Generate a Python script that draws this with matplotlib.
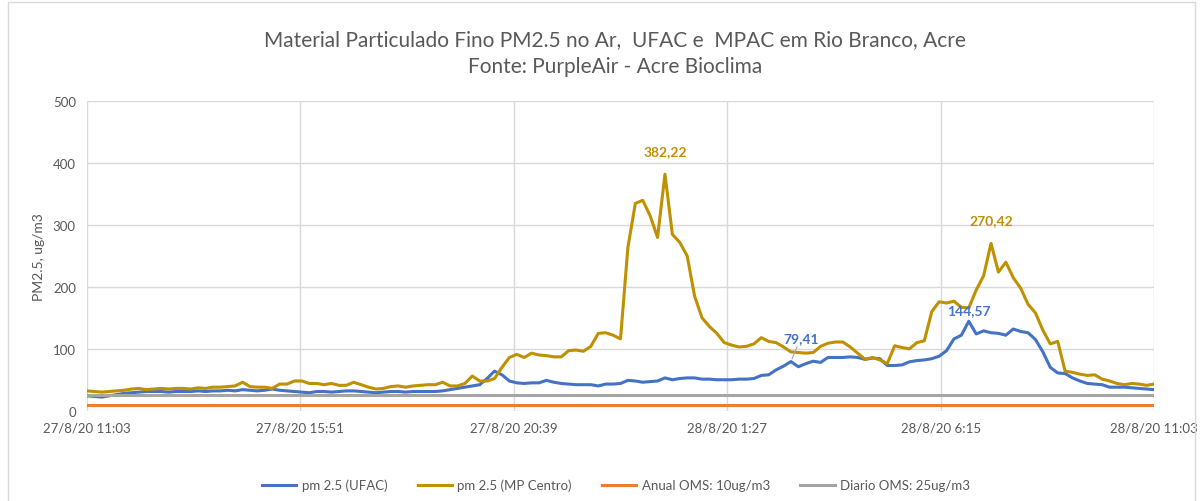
import matplotlib.pyplot as plt
import numpy as np
import pandas as pd

# Zeitachse: 10-Minuten-Schritte von 27/8/20 11:03 bis 28/8/20 11:03
tempo = pd.date_range('2020-08-27 11:03', '2020-08-28 11:03', freq='10min')

ufac = [24, 23, 22, 24, 26, 28, 29, 30, 31, 31,
        31, 30, 31, 31, 31, 32, 31, 32, 32, 33,
        32, 34, 33, 32, 33, 35, 33, 32, 31, 30,
        29, 31, 31, 30, 31, 32, 32, 31, 30, 29,
        30, 31, 31, 30, 31, 31, 31, 31, 32, 34,
        36, 38, 40, 42, 52, 64, 58, 48, 45, 44,
        45, 45, 49, 46, 44, 43, 42, 42, 42, 40,
        43, 43, 44, 49, 48, 46, 47, 48, 53, 50,
        52, 53, 53, 51, 51, 50, 50, 50, 51, 51,
        52, 57, 58, 66, 72, 79.41, 71, 76, 80, 78,
        86, 86, 86, 87, 86, 83, 85, 84, 73, 73,
        74, 79, 81, 82, 84, 88, 97, 116, 122, 144.57,
        124, 129, 126, 125, 122, 132, 128, 126, 115, 95,
        70, 61, 60, 53, 48, 44, 43, 42, 38, 38,
        38, 37, 36, 35, 34]

mpac = [32, 31, 30, 31, 32, 33, 35, 36, 34, 35,
        36, 35, 36, 36, 35, 37, 36, 38, 38, 39,
        40, 46, 39, 38, 38, 36, 43, 43, 48, 48,
        44, 44, 42, 44, 41, 41, 46, 42, 38, 35,
        36, 39, 40, 38, 40, 41, 42, 42, 46, 40,
        40, 44, 56, 48, 48, 52, 70, 86, 91, 86,
        93, 90, 89, 87, 87, 97, 98, 96, 104, 125,
        126, 122, 116, 264, 335, 340, 315, 280, 382.22, 285,
        272, 250, 185, 150, 136, 125, 110, 106, 103, 104,
        108, 118, 112, 110, 103, 95, 94, 93, 94, 104,
        109, 111, 111, 103, 93, 83, 86, 82, 76, 105,
        102, 100, 110, 113, 160, 176, 174, 177, 167, 166,
        195, 218, 270.42, 224, 240, 215, 198, 172, 158, 130,
        108, 112, 64, 62, 59, 57, 58, 51, 48, 44,
        42, 44, 43, 41, 43]

anual_oms = 10
diario_oms = 25

tick_labels = ['27/8/20 11:03', '27/8/20 15:51', '27/8/20 20:39',
               '28/8/20 1:27', '28/8/20 6:15', '28/8/20 11:03']

plt.rcParams['font.family'] = ['Lato', 'DejaVu Sans']
cinza = '#595959'

fig = plt.figure(figsize=(12.03, 5.02), dpi=100)
ax = fig.add_axes([0.0723, 0.1799, 0.887, 0.6163])

ax.plot(tempo, ufac, color='#4472C4', linewidth=2.2, label='pm 2.5 (UFAC)')
ax.plot(tempo, mpac, color='#BF9000', linewidth=2.2, label='pm 2.5 (MP Centro)')
ax.plot(tempo, [anual_oms] * len(tempo), color='#ED7D31', linewidth=2.2,
        label='Anual OMS: 10ug/m3')
ax.plot(tempo, [diario_oms] * len(tempo), color='#A5A5A5', linewidth=2.2,
        label='Diario OMS: 25ug/m3')

# Werte-Beschriftungen
i_max1 = int(np.argmax(mpac))
i_max2 = 100 + int(np.argmax(mpac[100:]))
i_ufac = 100 + int(np.argmax(ufac[100:]))
i_79 = ufac.index(79.41)
fmt = lambda v: f'{v:.2f}'.replace('.', ',')
ax.annotate(fmt(mpac[i_max1]), (tempo[i_max1], mpac[i_max1]), xytext=(0, 14),
            textcoords='offset points', ha='center', color='#BF9000',
            fontsize=10, fontweight='bold')
ax.annotate(fmt(mpac[i_max2]), (tempo[i_max2], mpac[i_max2]), xytext=(0, 14),
            textcoords='offset points', ha='center', color='#BF9000',
            fontsize=10, fontweight='bold')
ax.annotate(fmt(ufac[i_ufac]), (tempo[i_ufac], ufac[i_ufac]), xytext=(0, 5),
            textcoords='offset points', ha='center', color='#4472C4',
            fontsize=10, fontweight='bold')
ax.annotate(fmt(ufac[i_79]), (tempo[i_79], ufac[i_79]), xytext=(7, 14),
            textcoords='offset points', ha='center', color='#4472C4',
            fontsize=10, fontweight='bold',
            arrowprops=dict(arrowstyle='-', color='#A5A5A5', lw=0.8,
                            shrinkA=0, shrinkB=2))

ax.set_ylim(0, 500)
ax.set_yticks(range(0, 501, 100))
ax.set_xlim(tempo[0], tempo[-1])
ticks = pd.date_range(tempo[0], tempo[-1], periods=6)
ax.set_xticks(ticks)
ax.set_xticklabels(tick_labels)
ax.tick_params(colors=cinza, labelsize=9.5, length=0, pad=8)
ax.grid(True, color='#D9D9D9', linewidth=1)
ax.set_axisbelow(True)
for s in ax.spines.values():
    s.set_visible(False)
ax.set_ylabel('PM2.5, ug/m3', color=cinza, fontsize=10, labelpad=6)

fig.text(0.511, 0.920, 'Material Particulado Fino PM2.5 no Ar,  UFAC e  MPAC em Rio Branco, Acre',
         ha='center', va='center', fontsize=15, color=cinza)
fig.text(0.511, 0.866, 'Fonte: PurpleAir - Acre Bioclima',
         ha='center', va='center', fontsize=15, color=cinza)

leg = fig.legend(loc='center', bbox_to_anchor=(0.512, 0.032), ncol=4, frameon=False,
                 fontsize=9.5, handlelength=2.6, handletextpad=0.4, columnspacing=2.3)
for t in leg.get_texts():
    t.set_color(cinza)

# Rahmen des Diagrammbereichs
fig.patches.append(plt.Rectangle((0.007, -0.01), 0.986, 1.005, transform=fig.transFigure,
                                 fill=False, edgecolor='#D9D9D9', linewidth=1))

fig.savefig('out.png', dpi=100)
